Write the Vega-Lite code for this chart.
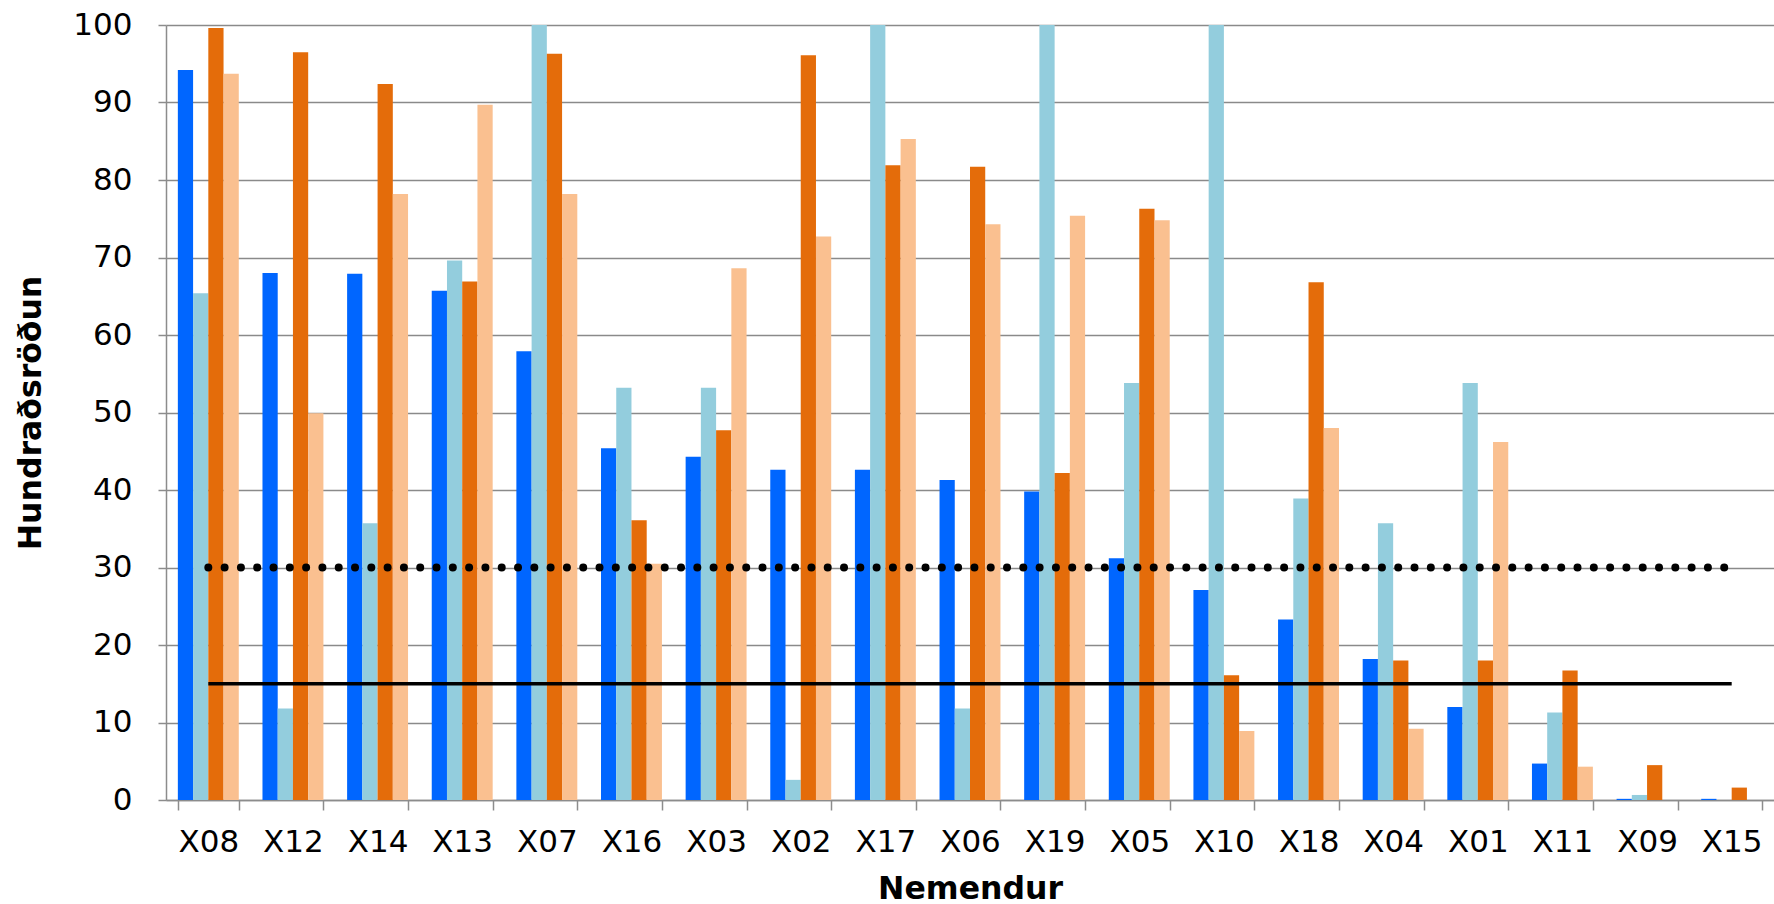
{
  "$schema": "https://vega.github.io/schema/vega-lite/v6.json",
  "width": 1608,
  "height": 775,
  "autosize": {"type": "none"},
  "padding": {"left": 166, "top": 25, "right": 0, "bottom": 104},
  "background": "white",
  "config": {"view": {"stroke": null}, "font": "DejaVu Sans"},
  "datasets": {
    "bars": [
      {"student": "X08", "series": "s1", "value": 94.2},
      {"student": "X08", "series": "s2", "value": 65.4},
      {"student": "X08", "series": "s3", "value": 99.6},
      {"student": "X08", "series": "s4", "value": 93.7},
      {"student": "X12", "series": "s1", "value": 68.0},
      {"student": "X12", "series": "s2", "value": 11.8},
      {"student": "X12", "series": "s3", "value": 96.5},
      {"student": "X12", "series": "s4", "value": 49.9},
      {"student": "X14", "series": "s1", "value": 67.9},
      {"student": "X14", "series": "s2", "value": 35.7},
      {"student": "X14", "series": "s3", "value": 92.4},
      {"student": "X14", "series": "s4", "value": 78.2},
      {"student": "X13", "series": "s1", "value": 65.7},
      {"student": "X13", "series": "s2", "value": 69.6},
      {"student": "X13", "series": "s3", "value": 66.9},
      {"student": "X13", "series": "s4", "value": 89.7},
      {"student": "X07", "series": "s1", "value": 57.9},
      {"student": "X07", "series": "s2", "value": 100},
      {"student": "X07", "series": "s3", "value": 96.3},
      {"student": "X07", "series": "s4", "value": 78.2},
      {"student": "X16", "series": "s1", "value": 45.4},
      {"student": "X16", "series": "s2", "value": 53.2},
      {"student": "X16", "series": "s3", "value": 36.1},
      {"student": "X16", "series": "s4", "value": 30.5},
      {"student": "X03", "series": "s1", "value": 44.3},
      {"student": "X03", "series": "s2", "value": 53.2},
      {"student": "X03", "series": "s3", "value": 47.7},
      {"student": "X03", "series": "s4", "value": 68.6},
      {"student": "X02", "series": "s1", "value": 42.6},
      {"student": "X02", "series": "s2", "value": 2.6},
      {"student": "X02", "series": "s3", "value": 96.1},
      {"student": "X02", "series": "s4", "value": 72.7},
      {"student": "X17", "series": "s1", "value": 42.6},
      {"student": "X17", "series": "s2", "value": 100},
      {"student": "X17", "series": "s3", "value": 81.9},
      {"student": "X17", "series": "s4", "value": 85.3},
      {"student": "X06", "series": "s1", "value": 41.3},
      {"student": "X06", "series": "s2", "value": 11.8},
      {"student": "X06", "series": "s3", "value": 81.7},
      {"student": "X06", "series": "s4", "value": 74.3},
      {"student": "X19", "series": "s1", "value": 39.8},
      {"student": "X19", "series": "s2", "value": 100},
      {"student": "X19", "series": "s3", "value": 42.2},
      {"student": "X19", "series": "s4", "value": 75.4},
      {"student": "X05", "series": "s1", "value": 31.2},
      {"student": "X05", "series": "s2", "value": 53.8},
      {"student": "X05", "series": "s3", "value": 76.3},
      {"student": "X05", "series": "s4", "value": 74.8},
      {"student": "X10", "series": "s1", "value": 27.1},
      {"student": "X10", "series": "s2", "value": 100},
      {"student": "X10", "series": "s3", "value": 16.1},
      {"student": "X10", "series": "s4", "value": 8.9},
      {"student": "X18", "series": "s1", "value": 23.3},
      {"student": "X18", "series": "s2", "value": 38.9},
      {"student": "X18", "series": "s3", "value": 66.8},
      {"student": "X18", "series": "s4", "value": 48.0},
      {"student": "X04", "series": "s1", "value": 18.2},
      {"student": "X04", "series": "s2", "value": 35.7},
      {"student": "X04", "series": "s3", "value": 18.0},
      {"student": "X04", "series": "s4", "value": 9.2},
      {"student": "X01", "series": "s1", "value": 12.0},
      {"student": "X01", "series": "s2", "value": 53.8},
      {"student": "X01", "series": "s3", "value": 18.0},
      {"student": "X01", "series": "s4", "value": 46.2},
      {"student": "X11", "series": "s1", "value": 4.7},
      {"student": "X11", "series": "s2", "value": 11.3},
      {"student": "X11", "series": "s3", "value": 16.7},
      {"student": "X11", "series": "s4", "value": 4.3},
      {"student": "X09", "series": "s1", "value": 0.15},
      {"student": "X09", "series": "s2", "value": 0.65},
      {"student": "X09", "series": "s3", "value": 4.5},
      {"student": "X09", "series": "s4", "value": 0},
      {"student": "X15", "series": "s1", "value": 0.15},
      {"student": "X15", "series": "s2", "value": 0},
      {"student": "X15", "series": "s3", "value": 1.6},
      {"student": "X15", "series": "s4", "value": 0}
    ],
    "refs": [
      {"student": "X08", "level": "30", "value": 30},
      {"student": "X15", "level": "30", "value": 30},
      {"student": "X08", "level": "15", "value": 15},
      {"student": "X15", "level": "15", "value": 15}
    ]
  },
  "encoding": {
    "x": {
      "field": "student",
      "type": "nominal",
      "sort": null,
      "scale": {
        "domain": ["X08","X12","X14","X13","X07","X16","X03","X02","X17","X06","X19","X05","X10","X18","X04","X01","X11","X09","X15"],
        "paddingInner": 0.28,
        "paddingOuter": 0.14
      },
      "axis": {
        "title": "Nemendur",
        "titleFont": "DejaVu Sans",
        "titleFontSize": 31.5,
        "titleFontWeight": "bold",
        "titleColor": "black",
        "titleY": 98,
        "titleBaseline": "alphabetic",
        "labelAngle": 0,
        "labelFont": "DejaVu Sans",
        "labelFontSize": 31,
        "labelColor": "black",
        "labelPadding": 17,
        "tickBand": "extent",
        "tickSize": 10,
        "tickColor": "#8c8c8c",
        "tickWidth": 1.5,
        "domainColor": "#8c8c8c",
        "domainWidth": 1.5,
        "grid": false
      }
    },
    "y": {
      "field": "value",
      "type": "quantitative",
      "scale": {"domain": [0, 100], "nice": false},
      "axis": {
        "title": "Hundraðsröðun",
        "titleFont": "DejaVu Sans",
        "titleFontSize": 31.5,
        "titleFontWeight": "bold",
        "titleColor": "black",
        "titleX": -126,
        "titleY": 387.5,
        "titleAngle": -90,
        "titleAlign": "center",
        "titleBaseline": "alphabetic",
        "values": [0,10,20,30,40,50,60,70,80,90,100],
        "labelFont": "DejaVu Sans",
        "labelFontSize": 31,
        "labelColor": "black",
        "labelPadding": 26,
        "tickSize": 8,
        "tickColor": "#8c8c8c",
        "tickWidth": 1.5,
        "domainColor": "#8c8c8c",
        "domainWidth": 1.5,
        "grid": true,
        "gridColor": "#8a8a8a",
        "gridWidth": 1.5
      }
    }
  },
  "layer": [
    {
      "data": {"name": "bars"},
      "mark": {"type": "bar"},
      "encoding": {
        "xOffset": {"field": "series", "type": "nominal", "scale": {"domain": ["s1","s2","s3","s4"], "paddingInner": 0, "paddingOuter": 0}},
        "color": {
          "field": "series",
          "type": "nominal",
          "scale": {"domain": ["s1","s2","s3","s4"], "range": ["#0066FF", "#93CDDD", "#E46C0A", "#FAC090"]},
          "legend": null
        }
      }
    },
    {
      "data": {"name": "refs"},
      "transform": [{"filter": "datum.level == '30'"}],
      "mark": {"type": "line", "color": "black", "strokeWidth": 8, "strokeDash": [0, 16.3], "strokeCap": "round"},
      "encoding": {}
    },
    {
      "data": {"name": "refs"},
      "transform": [{"filter": "datum.level == '15'"}],
      "mark": {"type": "line", "color": "black", "strokeWidth": 3.5},
      "encoding": {}
    }
  ]
}
